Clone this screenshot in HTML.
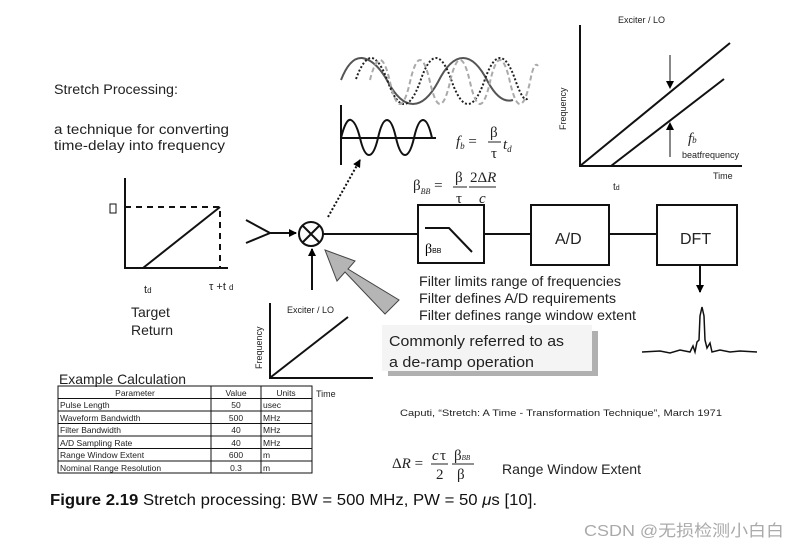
<!DOCTYPE html>
<html><head><meta charset="utf-8"><style>
body{margin:0;background:#fff;width:798px;height:549px;overflow:hidden}
svg{display:block}
.s{font-family:"Liberation Sans",sans-serif}
.m{font-family:"Liberation Serif",serif}
</style></head><body>
<svg width="798" height="549" viewBox="0 0 798 549" xmlns="http://www.w3.org/2000/svg">
<defs>
<marker id="a" markerWidth="8" markerHeight="8" refX="7" refY="4" orient="auto" markerUnits="userSpaceOnUse"><path d="M0,0 L8,4 L0,8z" fill="#000"/></marker>
</defs>
<g class="s" fill="#222">
<text x="54" y="94" font-size="13.5" textLength="124" lengthAdjust="spacingAndGlyphs">Stretch Processing:</text>
<text x="54" y="134" font-size="13.5" textLength="175" lengthAdjust="spacingAndGlyphs">a technique for converting</text>
<text x="54" y="150" font-size="13.5" textLength="171" lengthAdjust="spacingAndGlyphs">time-delay into frequency</text>
</g>
<!-- left graph -->
<g stroke="#111" stroke-width="2" fill="none">
<path d="M125,178 V268 H228"/>
<path d="M143,268 L220,207"/>
<path d="M125,207 H220 V268" stroke-dasharray="6,5"/>
<rect x="110" y="204" width="6" height="9" stroke-width="1"/>
<path d="M246,220 L270,233 L246,243"/>
<path d="M270,233 H296" marker-end="url(#a)"/>
<circle cx="311" cy="234" r="12"/>
<path d="M303,226 L319,242 M319,226 L303,242"/>
<path d="M323,234 H418 M484,234 H531 M609,234 H657"/>
<path d="M312,290 V249" marker-end="url(#a)"/>
<path d="M328,217 L360,160" stroke-dasharray="2,2" marker-end="url(#a)"/>
<rect x="418" y="205" width="66" height="58"/>
<rect x="531" y="205" width="78" height="60"/>
<rect x="657" y="205" width="80" height="60"/>
<path d="M425,228 H449 L472,252"/>
<path d="M700,265 V292" marker-end="url(#a)"/>
</g>
<g class="s" fill="#222">
<text x="144" y="293" font-size="11">t<tspan font-size="8">d</tspan></text>
<text x="209" y="290" font-size="11">τ +t <tspan font-size="8">d</tspan></text>
<text x="131" y="317" font-size="14">Target</text>
<text x="131" y="335" font-size="14">Return</text>
<text x="555" y="244" font-size="16">A/D</text>
<text x="680" y="244" font-size="16">DFT</text>
</g>
<text class="m" x="425" y="253" font-size="14">β<tspan font-size="7" font-family="Liberation Sans">BB</tspan></text>
<!-- gray arrow -->
<polygon points="399,300 385,314 345,272 337,281 325,250 355,261 348,269" fill="#b5b5b5" stroke="#444" stroke-width="1"/>
<!-- waves -->
<g fill="none">
<path d="M341,80 Q350,57 362,58 Q376,60 388,82 Q400,104 413,104 Q426,104 438,82 Q450,58 463,58 Q476,58 488,82 Q500,104 513,100" stroke="#555" stroke-width="2"/>
<path d="M356,79 Q364,57 372,58 Q380,60 388,82 Q396,104 404,104 Q412,104 420,82 Q428,58 436,58 Q444,58 452,82 Q460,104 468,104 Q476,104 484,82 Q492,58 500,58 Q508,58 516,82 Q524,104 528,98" stroke="#222" stroke-width="2" stroke-dasharray="2,2"/>
<path d="M370,80 Q375,60 380,60 Q385,60 390,82 Q395,104 400,104 Q405,104 410,82 Q415,60 420,60 Q425,60 430,82 Q435,104 440,104 Q445,104 450,82 Q455,60 460,60 Q465,60 470,82 Q475,104 480,104 Q485,104 490,82 Q495,60 500,60 Q505,60 510,82 Q515,104 520,104 Q525,104 530,82 Q534,60 538,66" stroke="#aaa" stroke-width="2" stroke-dasharray="5,3"/>
<path d="M341,105 V165 M340,138 H436" stroke="#111" stroke-width="2"/>
<path d="M341,138 Q346,118 351,120 Q356,122 360,138 Q364,155 369,155 Q374,155 378,138 Q382,120 387,120 Q392,120 396,138 Q400,155 405,155 Q410,155 414,138 Q418,120 423,120 Q428,120 432,138" stroke="#111" stroke-width="2"/>
</g>
<!-- formulas -->
<g class="m" fill="#222" font-size="15">
<text x="456" y="146" font-style="italic">f<tspan font-size="9" dy="3">b</tspan><tspan dy="-3" font-style="normal"> =</tspan></text>
<text x="490" y="137">β</text><line x1="488" y1="142" x2="501" y2="142" stroke="#222"/><text x="491" y="158">τ</text>
<text x="503" y="149" font-style="italic">t<tspan font-size="9" dy="3">d</tspan></text>
<text x="413" y="190">β<tspan font-size="8" dy="4" font-style="italic">BB</tspan><tspan dy="-4"> =</tspan></text>
<text x="455" y="182">β</text><line x1="453" y1="187" x2="467" y2="187" stroke="#222"/><text x="456" y="203">τ</text>
<text x="470" y="182">2Δ<tspan font-style="italic">R</tspan></text><line x1="469" y1="187" x2="496" y2="187" stroke="#222"/><text x="479" y="203" font-style="italic">c</text>
<text x="392" y="468" font-size="15">Δ<tspan font-style="italic">R</tspan> =</text>
<text x="432" y="460" font-style="italic">c</text><text x="440" y="460">τ</text><line x1="431" y1="464" x2="448" y2="464" stroke="#222"/><text x="436" y="479">2</text>
<text x="454" y="460">β<tspan font-size="7" font-style="italic">BB</tspan></text><line x1="452" y1="464" x2="474" y2="464" stroke="#222"/><text x="457" y="479">β</text>
</g>
<!-- top right graph -->
<g stroke="#111" stroke-width="2" fill="none">
<path d="M580,25 V166 H742"/>
<path d="M580,166 L730,43 M611,166 L724,79"/>
<path d="M670,55 V88" stroke-width="1" marker-end="url(#a)"/>
<path d="M670,157 V123" stroke-width="1" marker-end="url(#a)"/>
</g>
<g class="s" fill="#222">
<text x="618" y="23" font-size="9">Exciter / LO</text>
<text x="0" y="0" font-size="9" transform="translate(566,130) rotate(-90)">Frequency</text>
<text x="688" y="143" font-size="15" font-style="italic" class="m">f<tspan font-size="9">b</tspan></text>
<text x="682" y="158" font-size="9">beatfrequency</text>
<text x="713" y="179" font-size="9">Time</text>
<text x="613" y="190" font-size="10">t<tspan font-size="7">d</tspan></text>
</g>
<g class="s" fill="#222" font-size="14">
<text x="419" y="286" textLength="202" lengthAdjust="spacingAndGlyphs">Filter limits range of frequencies</text>
<text x="419" y="303" textLength="197" lengthAdjust="spacingAndGlyphs">Filter defines A/D requirements</text>
<text x="419" y="320" textLength="217" lengthAdjust="spacingAndGlyphs">Filter defines range window extent</text>
</g>
<rect x="388" y="331" width="210" height="45" fill="#b0b0b0"/>
<rect x="382" y="325" width="210" height="46" fill="#f4f4f4"/>
<g class="s" fill="#222" font-size="14.5">
<text x="389" y="346" textLength="175" lengthAdjust="spacingAndGlyphs">Commonly referred to as</text>
<text x="389" y="367" textLength="145" lengthAdjust="spacingAndGlyphs">a de-ramp operation</text>
</g>
<!-- sinc -->
<path d="M642,352 L660,351 L670,353 L680,350 L690,352 L693,346 L695,352 L697,342 L699,340 L700,316 L702,307 L704,316 L705,340 L707,348 L710,343 L712,352 L720,350 L730,352 L740,351 L757,352" fill="none" stroke="#111" stroke-width="1.5"/>
<!-- small graph -->
<g stroke="#111" stroke-width="2" fill="none">
<path d="M270,303 V378 H373"/><path d="M271,377 L348,317"/>
</g>
<g class="s" fill="#222">
<text x="287" y="313" font-size="9">Exciter / LO</text>
<text x="0" y="0" font-size="9" transform="translate(262,369) rotate(-90)">Frequency</text>
<text x="316" y="397" font-size="9">Time</text>
<text x="59" y="384" font-size="14" textLength="127" lengthAdjust="spacingAndGlyphs">Example Calculation</text>
<line x1="59" y1="386" x2="186" y2="386" stroke="#222"/>
</g>
<g stroke="#111" stroke-width="1" fill="none">
<rect x="58" y="386" width="254" height="87"/>
<path d="M211,386 V473 M261,386 V473 M58,398.5 H312 M58,411 H312 M58,423.5 H312 M58,436 H312 M58,448.5 H312 M58,461 H312"/>
</g>
<g class="s" fill="#222" font-size="8.5">
<text x="135" y="396" text-anchor="middle">Parameter</text><text x="236" y="396" text-anchor="middle">Value</text><text x="286" y="396" text-anchor="middle">Units</text>
<text x="60" y="408">Pulse Length</text><text x="236" y="408" text-anchor="middle">50</text><text x="263" y="408">usec</text>
<text x="60" y="421">Waveform Bandwidth</text><text x="236" y="421" text-anchor="middle">500</text><text x="263" y="421">MHz</text>
<text x="60" y="433">Filter Bandwidth</text><text x="236" y="433" text-anchor="middle">40</text><text x="263" y="433">MHz</text>
<text x="60" y="446">A/D Sampling Rate</text><text x="236" y="446" text-anchor="middle">40</text><text x="263" y="446">MHz</text>
<text x="60" y="458">Range Window Extent</text><text x="236" y="458" text-anchor="middle">600</text><text x="263" y="458">m</text>
<text x="60" y="471">Nominal Range Resolution</text><text x="236" y="471" text-anchor="middle">0.3</text><text x="263" y="471">m</text>
</g>
<text class="s" x="400" y="416" font-size="9.5" fill="#222" textLength="322" lengthAdjust="spacingAndGlyphs">Caputi, “Stretch: A Time - Transformation Technique”, March 1971</text>
<text class="s" x="502" y="474" font-size="14" fill="#222" textLength="139" lengthAdjust="spacingAndGlyphs">Range Window Extent</text>
<text class="s" x="50" y="505" font-size="15.5" fill="#111" textLength="487" lengthAdjust="spacingAndGlyphs"><tspan font-weight="bold">Figure 2.19</tspan>   Stretch processing: BW = 500 MHz, PW = 50 <tspan font-style="italic">μ</tspan>s [10].</text>
<text x="584" y="536" font-size="16" fill="#aaa" font-family="Liberation Sans, Noto Sans CJK SC, sans-serif" textLength="200" lengthAdjust="spacingAndGlyphs">CSDN @无损检测小白白</text>
</svg>
</body></html>
